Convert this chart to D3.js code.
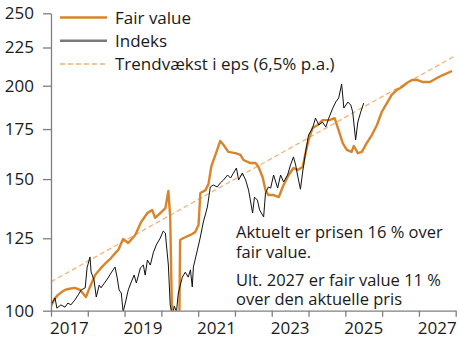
<!DOCTYPE html>
<html>
<head>
<meta charset="utf-8">
<script src="https://cdn.jsdelivr.net/npm/d3@7"></script>
<style>
  html, body { margin: 0; padding: 0; background: #fff; }
  svg { display: block; font-family: "Open Sans", sans-serif; }
</style>
</head>
<body>
<svg id="chart" width="459" height="338"></svg>
<script>
// ---------- DATA (decimal years, index values) ----------
const yTickValues = [100, 125, 150, 175, 200, 225, 250];
const xYearLabels = [2017, 2019, 2021, 2023, 2025, 2027];
const xYearTicks = [2017, 2018, 2019, 2020, 2021, 2022, 2023, 2024, 2025, 2026, 2027, 2028];

const fairValueDates = [2017.00, 2017.10, 2017.19, 2017.30, 2017.38, 2017.50, 2017.65, 2017.79, 2017.95, 2018.06, 2018.20, 2018.36, 2018.50, 2018.63, 2018.75, 2018.83, 2018.96, 2019.10, 2019.29, 2019.45, 2019.62, 2019.75, 2019.83, 2019.97, 2020.11, 2020.19, 2020.24, 2020.30, 2020.38, 2020.43, 2020.49, 2020.51, 2020.60, 2020.79, 2020.92, 2021.01, 2021.06, 2021.20, 2021.28, 2021.36, 2021.47, 2021.60, 2021.69, 2021.82, 2022.01, 2022.15, 2022.23, 2022.42, 2022.56, 2022.64, 2022.75, 2022.83, 2022.91, 2023.05, 2023.19, 2023.32, 2023.46, 2023.59, 2023.70, 2023.84, 2023.92, 2024.00, 2024.11, 2024.25, 2024.38, 2024.57, 2024.71, 2024.79, 2024.93, 2025.04, 2025.17, 2025.23, 2025.34, 2025.45, 2025.58, 2025.72, 2025.86, 2025.99, 2026.13, 2026.26, 2026.40, 2026.54, 2026.67, 2026.81, 2026.95, 2027.11, 2027.30, 2027.49, 2027.65, 2027.90];
const fairValue      = [101.5, 103.8, 105.0, 106.0, 106.6, 107.0, 107.3, 106.6, 104.3, 107.6, 111.6, 114.1, 116.0, 117.6, 119.5, 120.6, 124.7, 123.2, 126.3, 131.4, 135.1, 136.4, 133.1, 135.1, 137.2, 144.6, 133.5, 92.0, 90.0, 91.0, 99.0, 124.3, 125.1, 126.3, 127.4, 130.2, 143.7, 145.0, 147.7, 156.2, 161.6, 168.7, 166.6, 163.1, 162.5, 161.6, 159.1, 157.6, 157.6, 155.7, 151.0, 145.0, 142.8, 142.8, 141.9, 147.3, 151.9, 155.2, 154.3, 155.7, 162.5, 169.2, 175.6, 177.2, 179.9, 179.9, 181.0, 176.1, 167.6, 164.1, 163.1, 166.1, 162.5, 163.1, 167.6, 171.8, 177.2, 184.5, 189.6, 194.4, 197.4, 199.2, 201.7, 203.6, 203.6, 202.3, 202.3, 204.8, 206.7, 209.3];

const indexDates = [2017.00, 2017.11, 2017.16, 2017.27, 2017.38, 2017.46, 2017.54, 2017.65, 2017.74, 2017.82, 2017.93, 2017.98, 2018.06, 2018.09, 2018.17, 2018.23, 2018.31, 2018.36, 2018.47, 2018.55, 2018.63, 2018.74, 2018.80, 2018.85, 2018.91, 2018.96, 2019.02, 2019.10, 2019.18, 2019.26, 2019.32, 2019.43, 2019.51, 2019.56, 2019.62, 2019.70, 2019.78, 2019.86, 2019.97, 2020.05, 2020.11, 2020.13, 2020.19, 2020.24, 2020.30, 2020.35, 2020.41, 2020.46, 2020.57, 2020.65, 2020.73, 2020.79, 2020.84, 2020.87, 2020.98, 2021.06, 2021.14, 2021.25, 2021.33, 2021.41, 2021.52, 2021.60, 2021.69, 2021.80, 2021.88, 2021.96, 2022.04, 2022.10, 2022.20, 2022.29, 2022.37, 2022.48, 2022.53, 2022.61, 2022.67, 2022.78, 2022.83, 2022.91, 2022.97, 2023.05, 2023.16, 2023.24, 2023.32, 2023.43, 2023.51, 2023.59, 2023.65, 2023.70, 2023.78, 2023.84, 2023.92, 2024.00, 2024.11, 2024.19, 2024.28, 2024.38, 2024.47, 2024.55, 2024.66, 2024.74, 2024.82, 2024.90, 2024.96, 2025.07, 2025.15, 2025.20, 2025.28, 2025.34, 2025.42, 2025.50];
const indexValues = [101.8, 104.0, 100.8, 101.8, 101.1, 102.4, 101.8, 103.4, 105.0, 106.6, 107.3, 114.1, 118.0, 112.7, 109.9, 104.3, 108.2, 107.3, 109.2, 110.6, 112.3, 114.4, 110.6, 106.6, 105.6, 99.6, 102.4, 106.6, 109.2, 111.6, 108.9, 114.1, 115.1, 111.6, 116.9, 115.1, 119.5, 122.4, 125.1, 127.8, 127.0, 123.6, 115.1, 101.8, 98.4, 101.5, 99.6, 105.6, 110.9, 112.6, 110.9, 113.4, 107.6, 114.4, 120.6, 125.5, 131.4, 137.6, 146.4, 147.3, 146.4, 148.2, 149.6, 151.9, 150.5, 152.8, 155.2, 149.6, 152.8, 149.6, 145.0, 135.1, 141.9, 140.6, 136.4, 133.5, 143.7, 146.4, 145.9, 151.9, 145.9, 151.9, 148.7, 151.9, 156.7, 160.6, 156.7, 151.9, 145.4, 153.3, 163.1, 171.8, 175.6, 181.0, 177.2, 178.8, 176.1, 181.0, 186.7, 190.2, 192.6, 201.0, 186.7, 190.2, 188.4, 184.5, 169.2, 178.8, 184.5, 189.6];

const trendDates = [2017.0, 2028.0];
const trendValues = [109.3, 219.5];

const legendLabels = ["Fair value", "Indeks", "Trendvækst i eps (6,5% p.a.)"];
const noteLines = ["Aktuelt er prisen 16 % over", "fair value.", "Ult. 2027 er fair value 11 %", "over den aktuelle pris"];

// ---------- LAYOUT ----------
const svg = d3.select("#chart");
const plotLeft = 51, plotRight = 455.7, plotTop = 13.3, plotBottom = 310.7;

const x = d3.scaleLinear().domain([2017, 2028]).range([plotLeft, plotRight]);
const y = d3.scaleLog().domain([100, 250]).range([plotBottom, plotTop]);

const ORANGE = "#D9842A";
const TREND = "#F2B37A";
const AXIS = "#7f7f7f";
const TEXT = "#1a1a1a";

svg.append("rect").attr("width", 459).attr("height", 338).attr("fill", "#fff");

svg.append("defs").append("clipPath").attr("id", "plot")
  .append("rect").attr("x", plotLeft).attr("y", 0).attr("width", 459 - plotLeft).attr("height", plotBottom);

const pts = (xs, ys) => xs.map((d, i) => [d, ys[i]]);
const line = d3.line().x(d => x(d[0])).y(d => y(d[1]));

const g = svg.append("g").attr("clip-path", "url(#plot)");
g.append("path").attr("d", line(pts(trendDates, trendValues)))
  .attr("fill", "none").attr("stroke", TREND).attr("stroke-width", 1.3).attr("stroke-dasharray", "5,3");
g.append("path").attr("d", line(pts(fairValueDates, fairValue)))
  .attr("fill", "none").attr("stroke", ORANGE).attr("stroke-width", 2.4).attr("stroke-linejoin", "round");
g.append("path").attr("d", line(pts(indexDates, indexValues)))
  .attr("fill", "none").attr("stroke", "#111").attr("stroke-width", 1).attr("stroke-linejoin", "round");

// ---------- AXES ----------
const yAxis = d3.axisLeft(y).tickValues(yTickValues).tickFormat(d3.format("d")).tickSize(8).tickSizeOuter(0).tickPadding(9);
const ya = svg.append("g").attr("transform", `translate(${plotLeft},0)`).call(yAxis);
ya.select(".domain").attr("stroke", AXIS).attr("stroke-width", 1.3);
ya.selectAll(".tick line").attr("stroke", AXIS).attr("stroke-width", 1.3);
ya.selectAll(".tick text").attr("fill", TEXT).attr("font-size", 17).attr("font-family", "Open Sans");

const xAxis = d3.axisBottom(x).tickValues(xYearTicks).tickFormat("").tickSize(6).tickSizeOuter(0);
const xa = svg.append("g").attr("transform", `translate(0,${plotBottom})`).call(xAxis);
xa.select(".domain").attr("stroke", AXIS).attr("stroke-width", 1.3);
xa.selectAll(".tick line").attr("stroke", AXIS).attr("stroke-width", 1.3);

svg.append("g").selectAll("text").data(xYearLabels).join("text")
  .attr("x", d => x(d + 0.5)).attr("y", 334)
  .attr("text-anchor", "middle").attr("fill", TEXT).attr("font-size", 17)
  .text(d => d);

// ---------- LEGEND ----------
const legendStyles = [
  { stroke: ORANGE, width: 2.4, dash: null },
  { stroke: "#7a7a7a", width: 2.4, dash: null },
  { stroke: TREND, width: 1.5, dash: "5,3" }
];
const lg = svg.append("g");
legendLabels.forEach((lab, i) => {
  const ly = 17.5 + i * 23.3;
  const s = legendStyles[i];
  lg.append("line").attr("x1", 60).attr("x2", 107).attr("y1", ly).attr("y2", ly)
    .attr("stroke", s.stroke).attr("stroke-width", s.width).attr("stroke-dasharray", s.dash);
  lg.append("text").attr("x", 115).attr("y", ly + 6.3).attr("fill", TEXT).attr("font-size", 17).text(lab);
});

// ---------- NOTE ----------
const noteY = [238, 258, 286, 305];
svg.append("g").selectAll("text").data(noteLines).join("text")
  .attr("x", 236).attr("y", (d, i) => noteY[i]).attr("fill", TEXT).attr("font-size", 16.5)
  .text(d => d);
</script>
</body>
</html>
